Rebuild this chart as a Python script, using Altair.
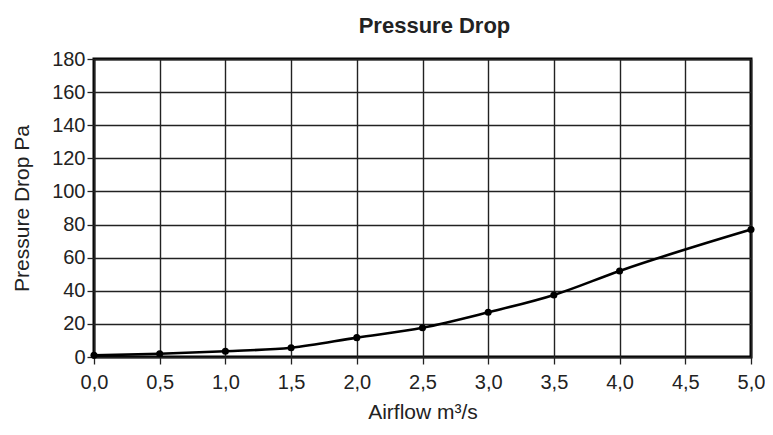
import altair as alt
import pandas as pd

airflow = [0.0, 0.5, 1.0, 1.5, 2.0, 2.5, 3.0, 3.5, 4.0, 5.0]
pressure = [1.0, 2.0, 3.5, 5.6, 11.7, 17.7, 27.0, 37.5, 52.0, 77.0]
x_ticks = [0, 0.5, 1, 1.5, 2, 2.5, 3, 3.5, 4, 4.5, 5]
y_ticks = [0, 20, 40, 60, 80, 100, 120, 140, 160, 180]

df = pd.DataFrame({"airflow": airflow, "pressure": pressure})

FONT = "Liberation Sans"

common = dict(labelFontSize=20, labelColor="#222", labelFont=FONT,
              titleFontSize=21, titleFont=FONT, titleFontWeight="normal",
              titleColor="#222", tickSize=7, tickColor="#222", tickWidth=1.3,
              domain=False, gridColor="#222", gridWidth=1.4, gridOpacity=1,
              labelOverlap=False, labelFlush=False, labelBound=False)

x = alt.X("airflow:Q",
          scale=alt.Scale(domain=[0, 5], nice=False, zero=True),
          axis=alt.Axis(values=x_ticks, title="Airflow m³/s",
                        labelExpr="replace(format(datum.value, '.1f'), '.', ',')",
                        titlePadding=9, labelPadding=8, **common))
y = alt.Y("pressure:Q",
          scale=alt.Scale(domain=[0, 180], nice=False),
          axis=alt.Axis(values=y_ticks, title="Pressure Drop Pa",
                        titlePadding=19, labelPadding=2, **common))

base = alt.Chart(df).encode(x=x, y=y)
line = base.mark_line(color="black", strokeWidth=2.6, interpolate="monotone")
pts = base.mark_point(filled=True, color="black", size=50, opacity=1)

chart = (line + pts).properties(
    width=657, height=298,
    autosize=alt.AutoSizeParams(type="none"),
    padding={"left": 86, "top": 51, "right": 14, "bottom": 72},
    title=alt.TitleParams("Pressure Drop", fontSize=22, font=FONT,
                          fontWeight="bold", color="#222", offset=11,
                          anchor="middle", dx=12),
    background="white",
).configure_view(stroke="black", strokeWidth=3)

chart.save("out.html", embed_options={"renderer": "svg", "actions": False})
